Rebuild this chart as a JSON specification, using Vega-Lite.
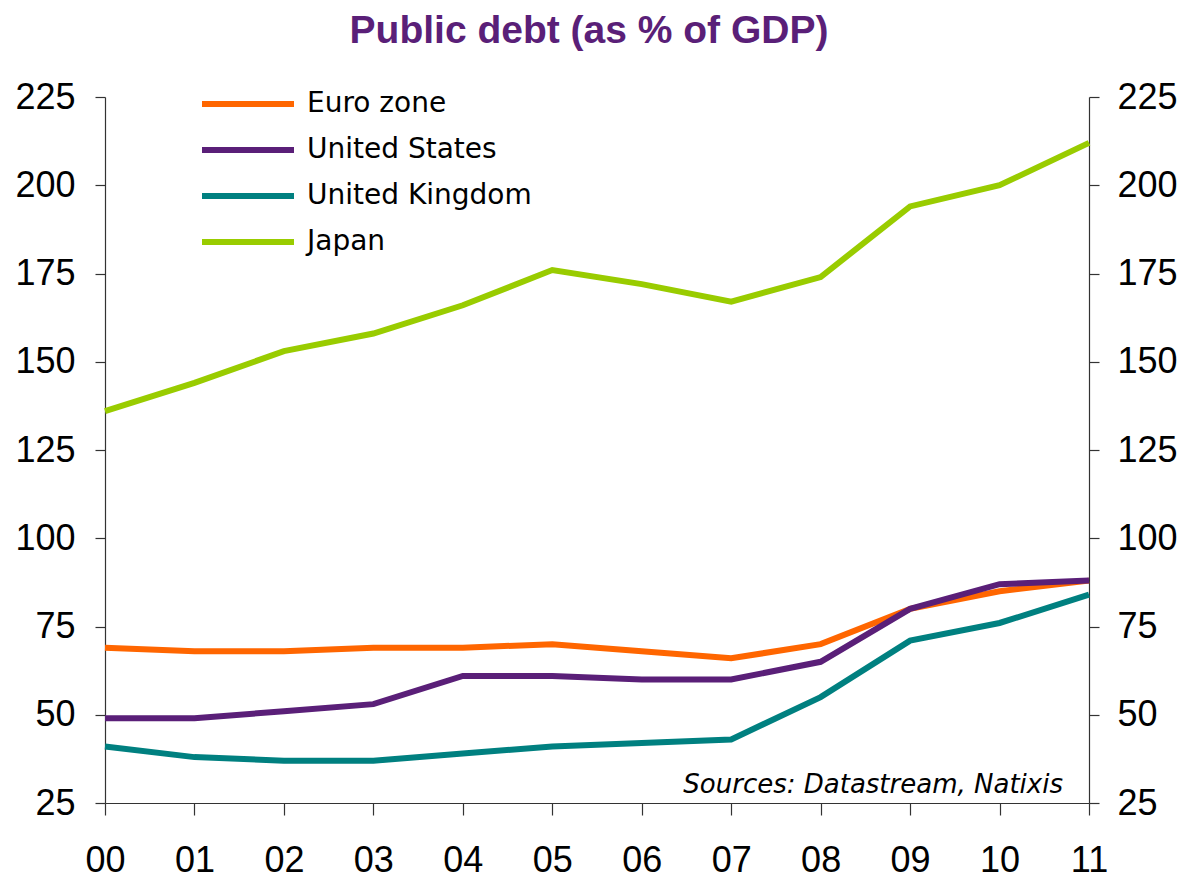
{
  "$schema": "https://vega.github.io/schema/vega-lite/v6.json",
  "autosize": {"type": "none"},
  "width": 984,
  "height": 706,
  "padding": {"left": 105, "top": 97, "right": 97, "bottom": 80},
  "background": "white",
  "title": {
    "text": "Public debt (as % of GDP)",
    "font": "Liberation Sans",
    "fontSize": 39,
    "fontWeight": "bold",
    "color": "#5A1F78",
    "anchor": "middle",
    "dx": -8,
    "offset": 28
  },
  "config": {
    "view": {"stroke": null},
    "axis": {
      "labelFont": "Liberation Sans",
      "labelFontSize": 36,
      "labelColor": "black",
      "domainColor": "#333",
      "tickColor": "#333",
      "domainWidth": 1.2,
      "tickWidth": 1.2,
      "grid": false,
      "title": null
    }
  },
  "data": {
    "values": [
      {"year": "00", "series": "Euro zone", "value": 69},
      {"year": "01", "series": "Euro zone", "value": 68},
      {"year": "02", "series": "Euro zone", "value": 68},
      {"year": "03", "series": "Euro zone", "value": 69},
      {"year": "04", "series": "Euro zone", "value": 69},
      {"year": "05", "series": "Euro zone", "value": 70},
      {"year": "06", "series": "Euro zone", "value": 68},
      {"year": "07", "series": "Euro zone", "value": 66},
      {"year": "08", "series": "Euro zone", "value": 70},
      {"year": "09", "series": "Euro zone", "value": 80},
      {"year": "10", "series": "Euro zone", "value": 85},
      {"year": "11", "series": "Euro zone", "value": 88},
      {"year": "00", "series": "United States", "value": 49},
      {"year": "01", "series": "United States", "value": 49},
      {"year": "02", "series": "United States", "value": 51},
      {"year": "03", "series": "United States", "value": 53},
      {"year": "04", "series": "United States", "value": 61},
      {"year": "05", "series": "United States", "value": 61},
      {"year": "06", "series": "United States", "value": 60},
      {"year": "07", "series": "United States", "value": 60},
      {"year": "08", "series": "United States", "value": 65},
      {"year": "09", "series": "United States", "value": 80},
      {"year": "10", "series": "United States", "value": 87},
      {"year": "11", "series": "United States", "value": 88},
      {"year": "00", "series": "United Kingdom", "value": 41},
      {"year": "01", "series": "United Kingdom", "value": 38},
      {"year": "02", "series": "United Kingdom", "value": 37},
      {"year": "03", "series": "United Kingdom", "value": 37},
      {"year": "04", "series": "United Kingdom", "value": 39},
      {"year": "05", "series": "United Kingdom", "value": 41},
      {"year": "06", "series": "United Kingdom", "value": 42},
      {"year": "07", "series": "United Kingdom", "value": 43},
      {"year": "08", "series": "United Kingdom", "value": 55},
      {"year": "09", "series": "United Kingdom", "value": 71},
      {"year": "10", "series": "United Kingdom", "value": 76},
      {"year": "11", "series": "United Kingdom", "value": 84},
      {"year": "00", "series": "Japan", "value": 136},
      {"year": "01", "series": "Japan", "value": 144},
      {"year": "02", "series": "Japan", "value": 153},
      {"year": "03", "series": "Japan", "value": 158},
      {"year": "04", "series": "Japan", "value": 166},
      {"year": "05", "series": "Japan", "value": 176},
      {"year": "06", "series": "Japan", "value": 172},
      {"year": "07", "series": "Japan", "value": 167},
      {"year": "08", "series": "Japan", "value": 174},
      {"year": "09", "series": "Japan", "value": 194},
      {"year": "10", "series": "Japan", "value": 200},
      {"year": "11", "series": "Japan", "value": 212}
    ]
  },
  "encoding": {
    "x": {
      "field": "year",
      "type": "ordinal",
      "scale": {"type": "point", "padding": 0},
      "axis": {"labelAngle": 0, "tickSize": 12, "labelPadding": 28, "domainWidth": 1.2}
    }
  },
  "layer": [
    {
      "mark": {"type": "line", "strokeWidth": 6, "strokeCap": "butt"},
      "encoding": {
        "y": {
          "field": "value",
          "type": "quantitative",
          "scale": {"domain": [25, 225], "nice": false, "zero": false},
          "axis": {"orient": "left", "values": [25, 50, 75, 100, 125, 150, 175, 200, 225], "tickSize": 10, "labelPadding": 20}
        },
        "color": {
          "field": "series",
          "type": "nominal",
          "sort": ["Euro zone", "United States", "United Kingdom", "Japan"],
          "scale": {
            "domain": ["Euro zone", "United States", "United Kingdom", "Japan"],
            "range": ["#FF6600", "#5A1F78", "#008080", "#99CC00"]
          },
          "legend": {
            "orient": "none",
            "legendX": 94,
            "legendY": -16,
            "title": null,
            "symbolType": "stroke",
            "symbolSize": 8464,
            "symbolStrokeWidth": 6,
            "labelFont": "DejaVu Sans",
            "labelFontSize": 28,
            "labelColor": "black",
            "labelOffset": 10,
            "labelLimit": 500,
            "clipHeight": 46,
            "rowPadding": 0
          }
        }
      }
    },
    {
      "data": {"values": [{"note": "Sources: Datastream, Natixis"}]},
      "mark": {
        "type": "text",
        "font": "DejaVu Sans",
        "fontSize": 26,
        "fontStyle": "italic",
        "align": "right",
        "baseline": "alphabetic",
        "dx": -26,
        "dy": -10,
        "color": "black"
      },
      "encoding": {
        "text": {"field": "note", "type": "nominal"},
        "x": {"datum": "11"},
        "y": {
          "datum": 25,
          "type": "quantitative",
          "axis": {"orient": "right", "values": [25, 50, 75, 100, 125, 150, 175, 200, 225], "tickSize": 10, "labelPadding": 18}
        }
      }
    }
  ],
  "resolve": {"axis": {"y": "independent"}}
}
